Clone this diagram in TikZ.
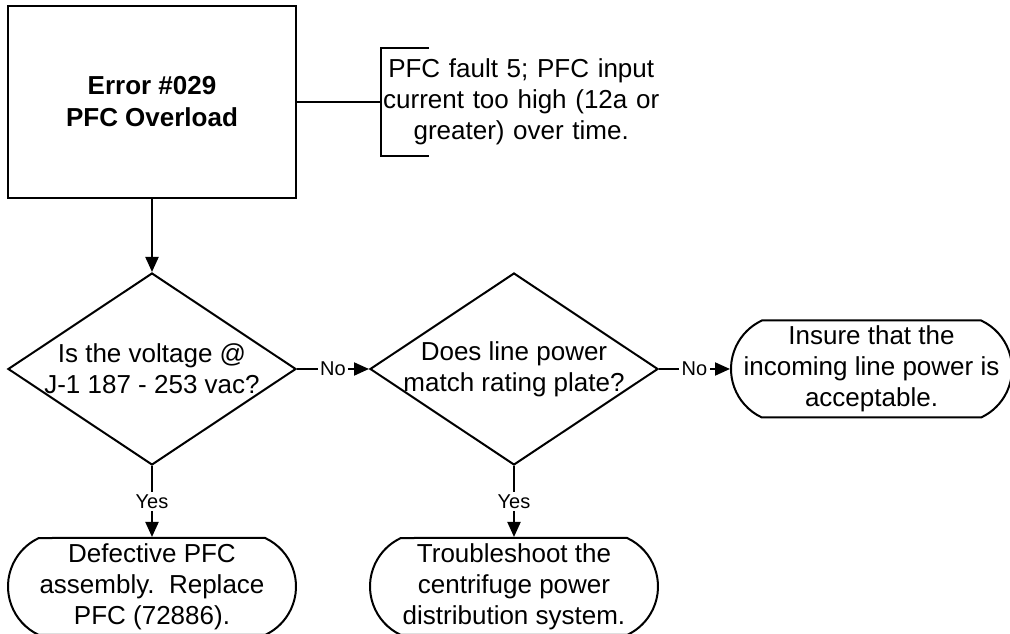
\documentclass[tikz,border=0pt]{standalone}
\usepackage{fontspec}
\setmainfont{Liberation Sans}
\usetikzlibrary{arrows.meta,positioning,shapes.geometric,shapes.misc}
\tikzset{
  txt/.style     ={font=\fontsize{26}{31}\selectfont, align=center, inner sep=0pt},
  shp/.style     ={draw, line width=2pt, inner sep=0pt},
  errbox/.style  ={shp, rectangle, minimum width=288pt, minimum height=192pt,
                   align=center, font=\fontsize{26}{32}\selectfont\bfseries},
  note/.style    ={txt, text width=280pt, minimum height=108pt},
  decision/.style={shp, diamond, minimum width=288pt, minimum height=192pt},
  finish/.style  ={shp, rounded rectangle, rounded rectangle arc length=130,
                   minimum width=288pt, minimum height=97pt},
  flow/.style    ={-{Triangle[length=15pt,width=13pt]}, line width=2pt},
  lbl/.style     ={font=\fontsize{20}{22}\selectfont, fill=white, inner sep=2.5pt},
}
\begin{document}
\begin{tikzpicture}[x=1pt,y=1pt]
    \useasboundingbox (0,0) rectangle (1010,634);
    \node[errbox] (err) at (152,532) {Error \#029\\PFC Overload};
    \node[note, right=84pt of err] (info) {PFC fault 5; PFC input\\current too high (12a or\\greater) over time.};
    \node[decision, below=73pt of err, label={[txt]center:{Is the voltage @\\J-1 187 - 253 vac?}}] (volt) {};
    \node[decision, right=72pt of volt, label={[txt]center:{Does line power\\match rating plate?}}] (line) {};
    \node[finish, right=71pt of line, minimum width=281pt, label={[txt]center:{Insure that the\\incoming line power is\\acceptable.}}] (insure) {};
    \node[finish, below=71pt of volt, label={[txt]center:{Defective PFC\\assembly.\ \ Replace\\PFC (72886).}}] (pfc) {};
    \node[finish, below=71pt of line, label={[txt]center:{Troubleshoot the\\centrifuge power\\distribution system.}}] (dist) {};
    % bracket of the note
    \draw[line width=2pt] ([xshift=48pt]info.north west) -- (info.north west)
      -- (info.south west) -- ([xshift=48pt]info.south west);
    \draw[line width=2pt] (err) -- (info);
    \draw[flow] (err) -- (volt);
    \draw[flow] (volt) -- (line) node[midway,lbl]{No};
    \draw[flow] (line) -- (insure) node[midway,lbl]{No};
    \draw[flow] (volt) -- (pfc) node[midway,lbl]{Yes};
    \draw[flow] (line) -- (dist) node[midway,lbl]{Yes};
  \end{tikzpicture}
\end{document}
